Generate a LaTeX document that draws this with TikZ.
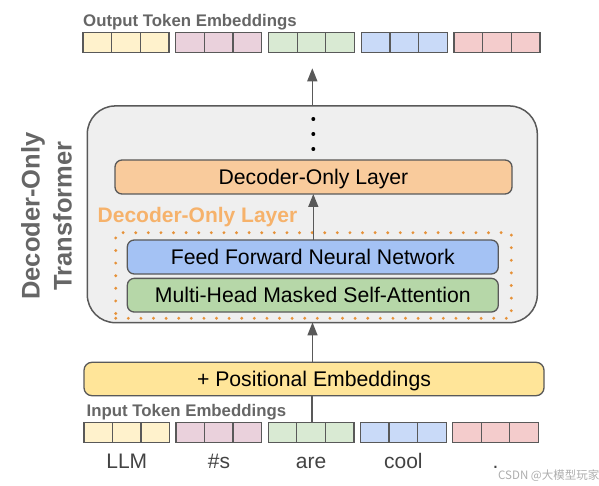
\documentclass[tikz,border=0pt]{standalone}
\usepackage{fontspec}
\setmainfont{Liberation Sans}
\newfontfamily\cjk{Noto Sans CJK SC}
\usetikzlibrary{arrows.meta}
\definecolor{edge}{HTML}{595959}
\definecolor{cy}{HTML}{FFF2CC}
\definecolor{cp}{HTML}{EAD1DC}
\definecolor{cg}{HTML}{D9EAD3}
\definecolor{cb}{HTML}{C9DAF8}
\definecolor{cr}{HTML}{F4CCCC}
\definecolor{boxgray}{HTML}{EFEFEF}
\definecolor{layerorange}{HTML}{F9CB9C}
\definecolor{ffnblue}{HTML}{A4C2F4}
\definecolor{mhagreen}{HTML}{B6D7A8}
\definecolor{posyellow}{HTML}{FFE599}
\definecolor{labelorange}{HTML}{F6B26B}
\definecolor{dotorange}{HTML}{E69138}
\definecolor{titlegray}{HTML}{666666}
\definecolor{wordgray}{HTML}{434343}
\tikzset{
  cell/.style={draw=edge, line width=1.3pt, minimum width=28.667pt, minimum height=20pt, inner sep=0pt, outer sep=0pt},
  block/.style={draw=edge, line width=1.3pt, rounded corners=7pt, inner sep=0pt, outer sep=0pt,
    text height=15.2pt, text depth=0pt,
    font=\fontsize{21.2}{25}\selectfont, text=black},
  title/.style={font=\bfseries\fontsize{16.8}{20}\selectfont, text=titlegray, inner sep=0pt, anchor=base west},
  word/.style={font=\fontsize{21}{25}\selectfont, text=wordgray, inner sep=0pt, anchor=base},
  flow/.style={draw=edge, line width=1.5pt, -{Triangle[width=10pt,length=13pt]}},
  plainline/.style={draw=edge, line width=1.5pt},
  sidelabel/.style={font=\bfseries\fontsize{25.5}{30}\selectfont, text=titlegray, inner sep=0pt, anchor=base, rotate=90},
}
\begin{document}
\begin{tikzpicture}[x=1pt, y=-1pt]
\useasboundingbox (0,0) rectangle (599,486);

% transformer container
\node[draw=edge, line width=1.5pt, fill=boxgray, rounded corners=28pt,
      minimum width=450pt, minimum height=216.7pt, inner sep=0pt] (tbox) at (312.3,214.3) {};

% output token embeddings
\node[title] (outtitle) at (83,27) {Output Token Embeddings};
\foreach \g/\col in {1/cy,2/cp,3/cg,4/cb,5/cr} {
  \foreach \c in {1,2,3} {
    \node[cell, fill=\col] (out-\g-\c) at ({83 + (\g-1)*92.75 + (\c-0.5)*28.667}, 42.3) {};
  }
}

% input token embeddings
\node[title] (intitle) at (86.5,416.5) {Input Token Embeddings};
\foreach \g/\col in {1/cy,2/cp,3/cg,4/cb,5/cr} {
  \foreach \c in {1,2,3} {
    \node[cell, fill=\col] (in-\g-\c) at ({84 + (\g-1)*92.2 + (\c-0.5)*28.5}, 432.3) {};
  }
}
\node[word] (w1) at (in-1-2 |- 0,468.3) {LLM};
\node[word] (w2) at (in-2-2 |- 0,468.3) {\#s};
\node[word] (w3) at (in-3-2 |- 0,468.3) {are};
\node[word] (w4) at (in-4-2 |- 0,468.3) {cool};
\node[word] (w5) at (in-5-2 |- 0,468.3) {.};

% side label
\node[sidelabel] (side1) at (39.5,216) {Decoder-Only};
\node[sidelabel] (side2) at (71.5,216) {Transformer};

% dots
\fill (313.3,119) circle (2pt);
\fill (313.3,134) circle (2pt);
\fill (313.3,149) circle (2pt);

% layers
\node[block, fill=layerorange, minimum width=397pt, minimum height=34pt] (layer) at (313.5,177) {Decoder-Only Layer};
\node[font=\bfseries\fontsize{21}{25}\selectfont, text=labelorange, inner sep=0pt, anchor=base west] (layerlabel) at (97.5,222.7) {Decoder-Only Layer};
\node[draw=dotorange, line width=3.2pt, line cap=round, dash pattern=on 0pt off 12.6pt,
      minimum width=395.6pt, minimum height=85.6pt, inner sep=0pt] (dotbox) at (313.5,275.5) {};
\node[block, fill=ffnblue, minimum width=371pt, minimum height=34pt] (ffn) at (312.8,257) {Feed Forward Neural Network};
\node[block, fill=mhagreen, minimum width=371pt, minimum height=33.7pt] (mha) at (312.8,295.2) {Multi-Head Masked Self-Attention};

% positional
\node[block, rounded corners=8pt, fill=posyellow, minimum width=460pt, minimum height=33.4pt] (pos) at (314,379) {+ Positional Embeddings};

% connectors
\draw[flow] (ffn.north -| 313.3,0) -- (layer.south -| 313.3,0);
\draw[flow, shorten >=16pt] (tbox.north) -- (tbox.north |- out-3-2.south);
\draw[flow, shorten >=-1pt] (pos.north -| 312.5,0) -- (tbox.south -| 312.5,0);
\draw[plainline] (pos.south -| 312,0) -- (in-3-2.north -| 312,0);

% credit
\node[font=\cjk\fontsize{11.5}{14}\selectfont, text=black!32, inner sep=0pt, anchor=base west] (credit) at (498,479) {CSDN @大模型玩家};
\end{tikzpicture}
\end{document}
